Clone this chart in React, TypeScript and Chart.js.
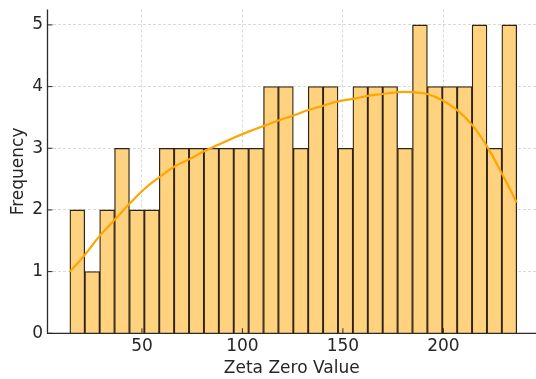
import React, { useEffect, useRef } from "react";
import { Chart, registerables } from "chart.js";

Chart.register(...registerables);

// Histogram bin edges (first 100 zeta zeros, 30 bins)
const binEdges = [
  14.13, 21.55, 28.96, 36.37, 43.78, 51.2, 58.61, 66.02, 73.44, 80.85, 88.26,
  95.68, 103.09, 110.5, 117.92, 125.33, 132.74, 140.15, 147.57, 154.98, 162.39,
  169.81, 177.22, 184.63, 192.05, 199.46, 206.87, 214.29, 221.7, 229.11, 236.52,
];
const binCounts = [
  2, 1, 2, 3, 2, 2, 3, 3, 3, 3, 3, 3, 3, 4, 4, 3, 4, 4, 3, 4, 4, 4, 3, 5, 4, 4,
  4, 5, 3, 5,
];
// KDE curve (scaled to counts) read at the bin edges
const kdeValues = [
  1.0, 1.27, 1.58, 1.84, 2.1, 2.34, 2.53, 2.7, 2.82, 2.95, 3.06, 3.17, 3.27,
  3.36, 3.45, 3.53, 3.62, 3.69, 3.76, 3.8, 3.85, 3.88, 3.91, 3.91, 3.88, 3.78,
  3.62, 3.38, 3.03, 2.59, 2.12,
];
const xTicks = [50, 100, 150, 200];
const yTicks = [0, 1, 2, 3, 4, 5];

const FONT = "'DejaVu Sans', sans-serif";
const TEXT = "#262626";
const SPINE = "#2b2b2b";

const spinesAndTicks = {
  id: "spinesAndTicks",
  afterDatasetsDraw(chart: any) {
    const { ctx, chartArea, scales } = chart;
    const xs = scales.x;
    const ys = scales.y;
    ctx.save();
    ctx.strokeStyle = SPINE;
    ctx.lineWidth = 1.3;
    ctx.beginPath();
    ctx.moveTo(chartArea.left, chartArea.top);
    ctx.lineTo(chartArea.left, chartArea.bottom);
    ctx.lineTo(chartArea.right, chartArea.bottom);
    ctx.stroke();
    ctx.lineWidth = 1;
    ctx.beginPath();
    xTicks.forEach((v) => {
      const px = xs.getPixelForValue(v);
      ctx.moveTo(px, chartArea.bottom);
      ctx.lineTo(px, chartArea.bottom - 5);
    });
    yTicks.forEach((v) => {
      const py = ys.getPixelForValue(v);
      ctx.moveTo(chartArea.left, py);
      ctx.lineTo(chartArea.left + 5, py);
    });
    ctx.stroke();
    ctx.restore();
  },
};

export default function App() {
  const ref = useRef<HTMLCanvasElement>(null);

  useEffect(() => {
    if (!ref.current) return;
    const barData = binCounts.map((c, i) => ({
      x: (binEdges[i] + binEdges[i + 1]) / 2,
      y: c,
    }));
    const kdeData = kdeValues.map((v, i) => ({ x: binEdges[i], y: v }));

    const chart = new Chart(ref.current, {
      type: "bar",
      data: {
        datasets: [
          {
            type: "line",
            data: kdeData,
            borderColor: "#FFA500",
            borderWidth: 2.2,
            pointRadius: 0,
            tension: 0.4,
            fill: false,
            order: 0,
          } as any,
          {
            type: "bar",
            data: barData,
            backgroundColor: "#FFD27F",
            borderColor: "#2e2316",
            borderWidth: 1.3,
            barPercentage: 1,
            categoryPercentage: 1,
            order: 1,
          },
        ],
      },
      options: {
        responsive: false,
        animation: false,
        layout: { padding: { top: 9.5, right: 0, left: 0, bottom: 0 } },
        plugins: {
          legend: { display: false },
          tooltip: { enabled: false },
        },
        scales: {
          x: {
            type: "linear",
            offset: false,
            min: 3.0,
            max: 246.1,
            afterBuildTicks: (s: any) => {
              s.ticks = xTicks.map((v) => ({ value: v }));
            },
            afterFit: (s: any) => {
              s.height = 45.7;
              s.paddingLeft = 0;
              s.paddingRight = 0;
            },
            grid: {
              offset: false,
              color: "#cfcfcf",
              lineWidth: 0.8,
              drawTicks: false,
            },
            border: { display: false, dash: [3, 2] },
            ticks: {
              color: TEXT,
              font: { family: FONT, size: 17 },
              padding: 3,
              maxRotation: 0,
              autoSkip: false,
            },
            title: {
              display: true,
              text: "Zeta Zero Value",
              color: TEXT,
              font: { family: FONT, size: 17 },
              padding: { top: 0, bottom: 0 },
            },
          },
          y: {
            type: "linear",
            min: 0,
            max: 5.25,
            afterBuildTicks: (s: any) => {
              s.ticks = yTicks.map((v) => ({ value: v }));
            },
            afterFit: (s: any) => {
              s.width = 47.5;
              s.paddingTop = 0;
              s.paddingBottom = 0;
            },
            grid: {
              color: "#cfcfcf",
              lineWidth: 0.8,
              drawTicks: false,
            },
            border: { display: false, dash: [3, 2] },
            ticks: {
              color: TEXT,
              font: { family: FONT, size: 17 },
              padding: 4.5,
              autoSkip: false,
            },
            title: {
              display: true,
              text: "Frequency",
              color: TEXT,
              font: { family: FONT, size: 17 },
              padding: { top: 8, bottom: 0 },
            },
          },
        },
      },
      plugins: [spinesAndTicks],
    });
    return () => chart.destroy();
  }, []);

  return (
    <div style={{ position: "fixed", left: 0, top: 0, width: 536, height: 379, background: "#fff" }}>
      <canvas ref={ref} width={536} height={379} style={{ display: "block" }} />
    </div>
  );
}
